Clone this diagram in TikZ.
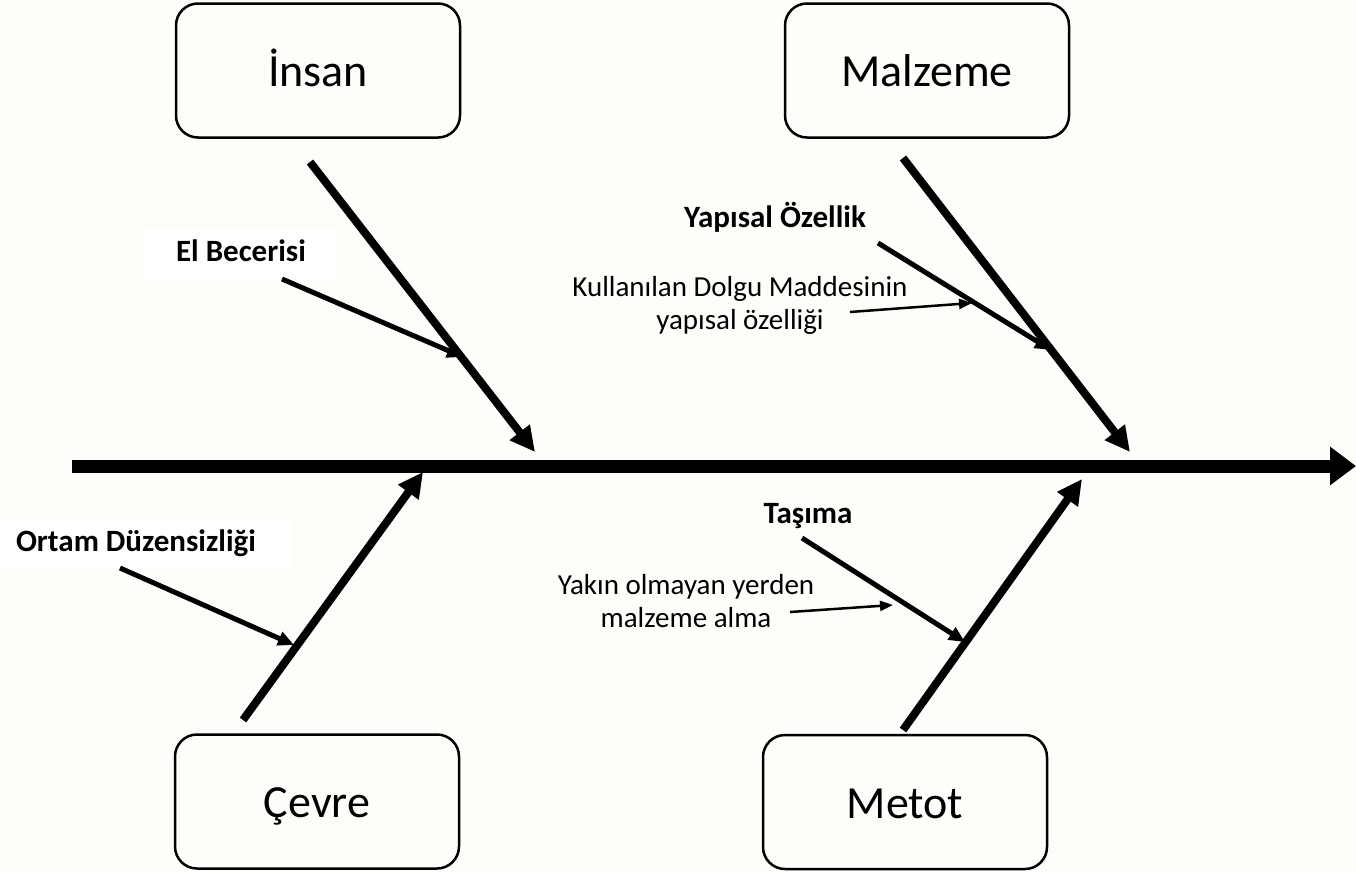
\documentclass[tikz,border=0pt]{standalone}
\usepackage{fontspec}
\setmainfont{Carlito}
\usetikzlibrary{arrows.meta}
\definecolor{bgc}{RGB}{253,254,249}
\begin{document}
\begin{tikzpicture}[x=1pt,y=-1pt,
  catbox/.style={draw=black, line width=2.5pt, rounded corners=22pt,
    minimum width=284pt, minimum height=134pt, inner sep=0pt,
    font=\fontsize{46}{50}\selectfont, text height=32pt, text depth=0pt},
  causelbl/.style={font=\bfseries\fontsize{31}{34}\selectfont, inner sep=0pt},
  whitelbl/.style={causelbl, fill=white, text height=22pt, text depth=7pt},
  notelbl/.style={font=\fontsize{29}{33}\selectfont, align=center, inner sep=0pt},
  spine/.style={line width=13pt, -{Triangle[length=26pt,width=37pt]}},
  bone/.style={line width=8pt, -{Triangle[length=25pt,width=24pt]}},
  subbone/.style={line width=5pt, -{Triangle[length=16pt,width=14pt]}},
  thinarrow/.style={line width=2.5pt, -{Triangle[length=13pt,width=10pt]}}
]
\fill[bgc] (0,0) rectangle (1356,871);
\useasboundingbox (0,0) rectangle (1356,871);

% category boxes
\node[catbox] (insan) at (318,70.5) {İnsan};
\node[catbox] (malzeme) at (927,70.5) {Malzeme};
\node[catbox] (cevre) at (317,801.5) {Çevre};
\node[catbox] (metot) at (905,802) {Metot};

% spine
\coordinate (spL) at (72,466);
\coordinate (spR) at (1356,466);
\draw[spine] (spL) -- (spR);

% main bones
\coordinate (bI1) at (310,162); \coordinate (bI2) at (535,452);
\coordinate (bM1) at (903,158); \coordinate (bM2) at (1130,452);
\coordinate (bC1) at (243,720); \coordinate (bC2) at (423,472);
\coordinate (bT1) at (903,730); \coordinate (bT2) at (1082,479);
\draw[bone] (bI1) -- (bI2);
\draw[bone] (bM1) -- (bM2);
\draw[bone] (bC1) -- (bC2);
\draw[bone] (bT1) -- (bT2);

% labels
\node[whitelbl, minimum width=194pt, minimum height=50pt] (el) at (241,254) {El Becerisi};
\node[whitelbl, minimum width=313pt, minimum height=48pt] (ortam) at (136,544) {Ortam Düzensizliği};
\node[causelbl, anchor=base] (yap) at (775,227) {Yapısal Özellik};
\node[causelbl, anchor=base] (tas) at (808,523) {Taşıma};
\node[notelbl] (kul) at (740,305) {Kullanılan Dolgu Maddesinin\\yapısal özelliği};
\node[notelbl] (yak) at (686,601) {Yakın olmayan yerden\\malzeme alma};

% sub bones
\coordinate (sE1) at (282,279); \coordinate (sE2) at (463,357);
\coordinate (sY1) at (878,243); \coordinate (sY2) at (1051,350);
\coordinate (sO1) at (120,568); \coordinate (sO2) at (294,645);
\coordinate (sT1) at (802,538); \coordinate (sT2) at (965,642);
\draw[subbone] (sE1) -- (sE2);
\draw[subbone] (sY1) -- (sY2);
\draw[subbone] (sO1) -- (sO2);
\draw[subbone] (sT1) -- (sT2);

% thin arrows
\coordinate (aK1) at (850,312); \coordinate (aK2) at (972,303);
\coordinate (aY1) at (790,612); \coordinate (aY2) at (893,605);
\draw[thinarrow] (aK1) -- (aK2);
\draw[thinarrow] (aY1) -- (aY2);
\end{tikzpicture}
\end{document}
